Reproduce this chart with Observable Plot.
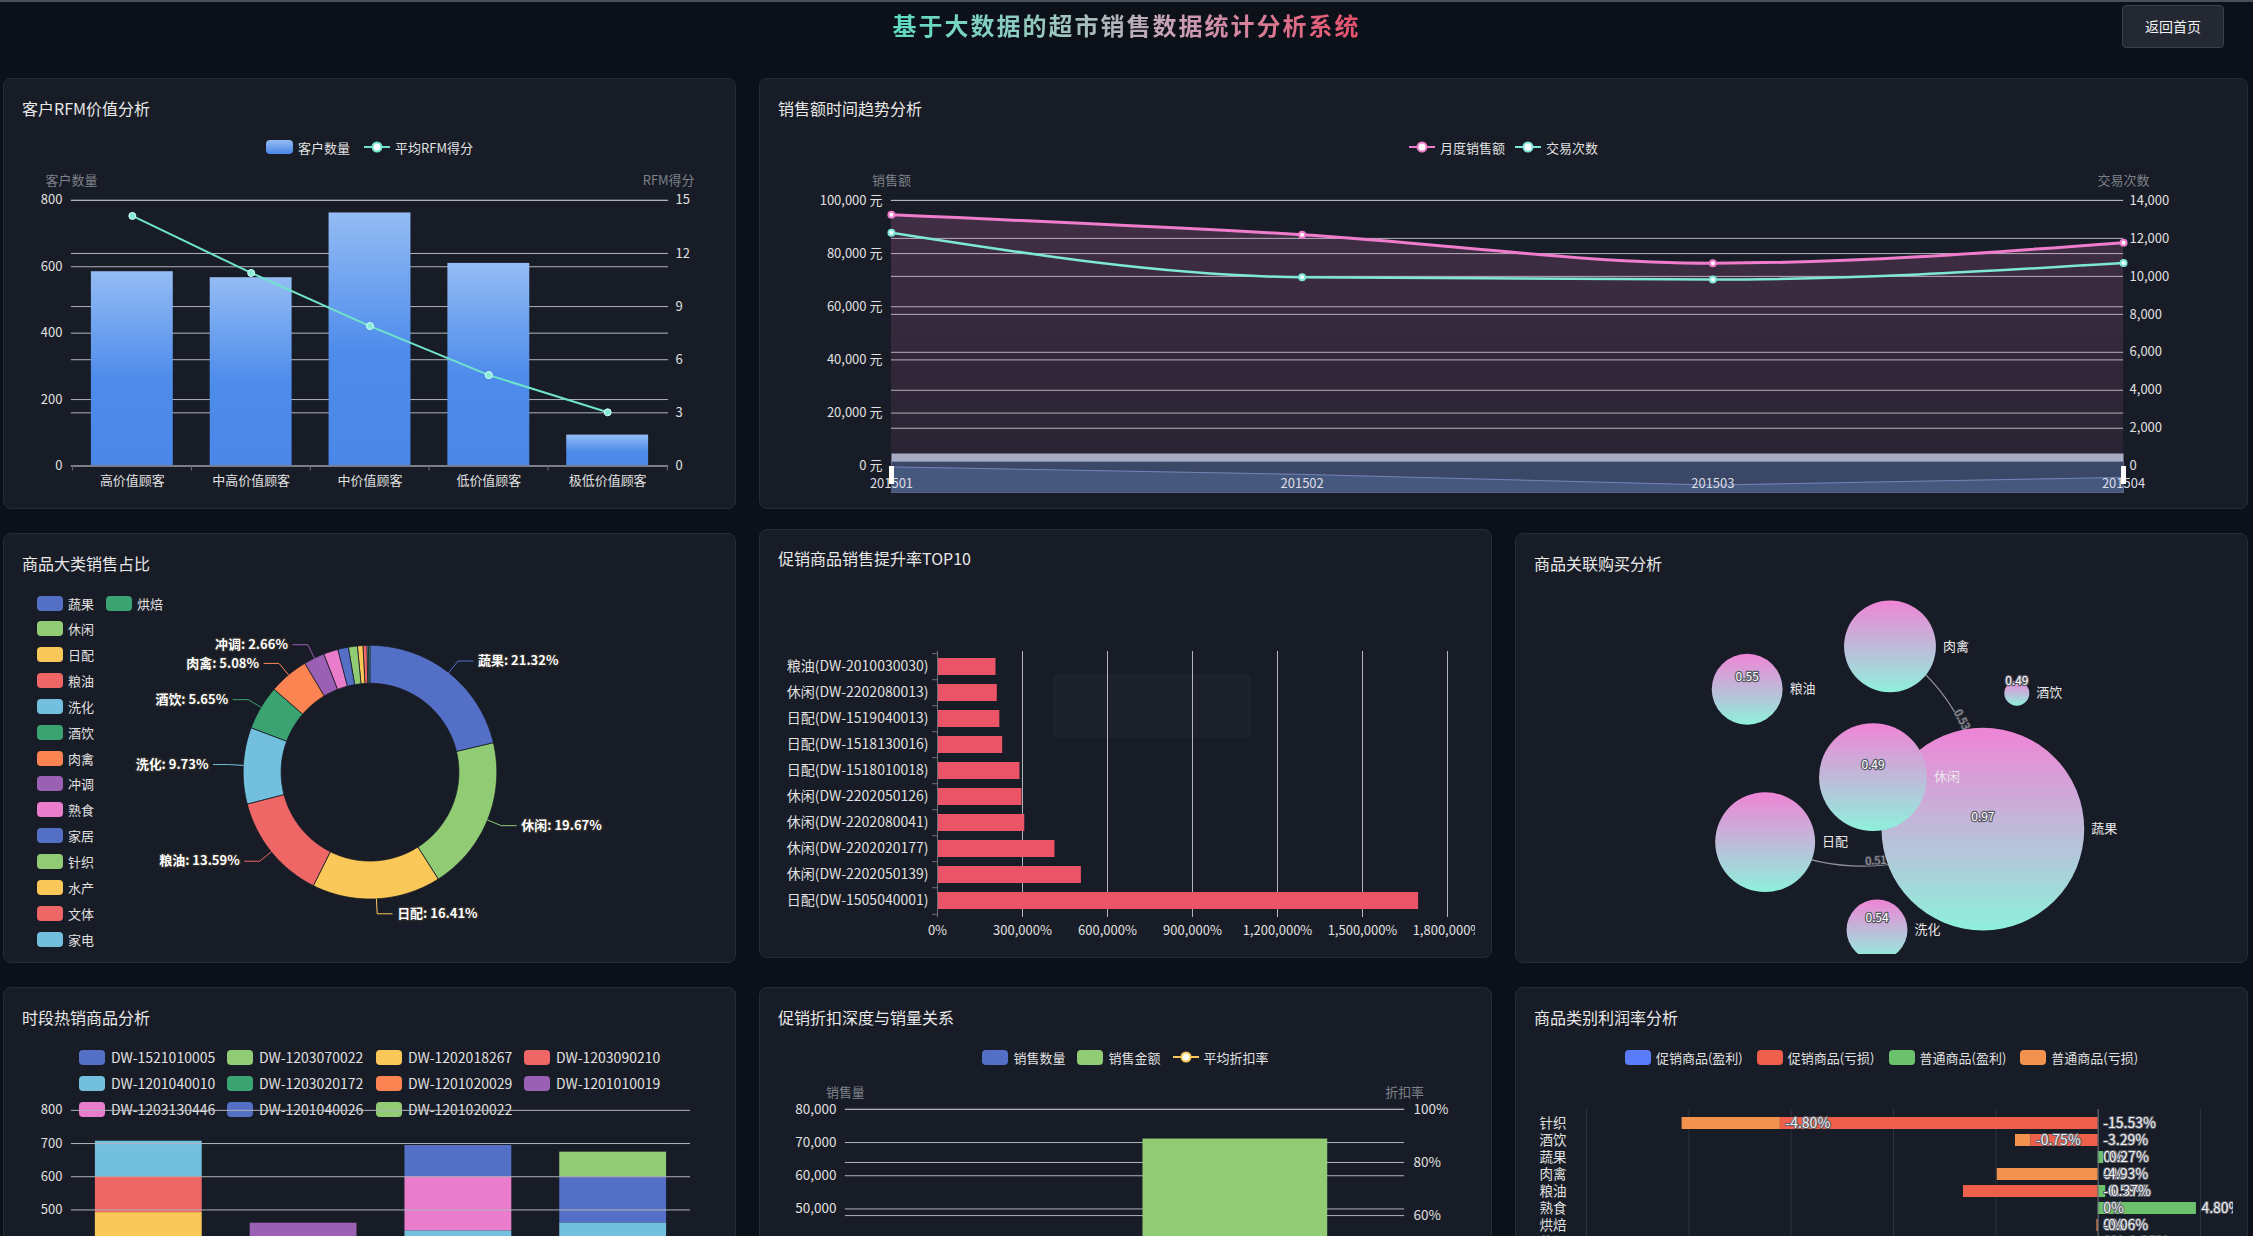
<!DOCTYPE html>
<html lang="zh-CN">
<head>
<meta charset="utf-8">
<title>基于大数据的超市销售数据统计分析系统</title>
<script src="https://cdn.jsdelivr.net/npm/d3@7"></script>
<script src="https://cdn.jsdelivr.net/npm/@observablehq/plot@0.6"></script>
<style>
html,body{margin:0;padding:0;width:2253px;height:1236px;overflow:hidden;background:#0c1019;font-family:"Noto Sans CJK SC","Noto Sans",sans-serif;color:#e6e6e6;}
#topline{position:absolute;left:0;top:0;width:2253px;height:2px;background:#4b4f57;}
#title{position:absolute;left:0;top:7px;width:2253px;text-align:center;font-size:24px;line-height:36px;letter-spacing:2px;font-weight:bold;}
#title span{background:linear-gradient(90deg,#5fdcc3 0%,#9cc6c0 35%,#c9a2b8 60%,#e8506c 100%);-webkit-background-clip:text;background-clip:text;color:transparent;}
#btn{position:absolute;left:2122px;top:5px;width:102px;height:43px;box-sizing:border-box;border:1px solid #3a404c;background:#242833;border-radius:4px;color:#f2f2f2;font-size:14px;line-height:41px;text-align:center;}
.panel{position:absolute;background:#181c26;border:1px solid #262b36;border-radius:8px;overflow:hidden;box-sizing:border-box;}
.ptitle{position:absolute;left:18px;font-size:16px;line-height:22px;color:#e8e8e8;white-space:nowrap;}
.lg{position:absolute;display:flex;align-items:center;font-size:13px;color:#e0e0e0;white-space:nowrap;}
</style>
</head>
<body>
<div id="topline"></div>
<div id="title"><span>基于大数据的超市销售数据统计分析系统</span></div>
<div id="btn">返回首页</div>
<script>
// ================= DATA =================
// 客户RFM价值分析
const rfmSegments = ["高价值顾客", "中高价值顾客", "中价值顾客", "低价值顾客", "极低价值顾客"];
const rfmCustomers = [585, 567, 762, 610, 93];
const rfmScores = [14.12, 10.9, 7.9, 5.13, 3.03];
const rfmCountTicks = [0, 200, 400, 600, 800];
const rfmScoreTicks = [0, 3, 6, 9, 12, 15];

// 销售额时间趋势分析
const months = ["201501", "201502", "201503", "201504"];
const monthlySales = [94600, 87100, 76400, 84100];
const monthlyTrans = [12300, 9950, 9830, 10700];
const salesTicks = [0, 20000, 40000, 60000, 80000, 100000];
const transTicks = [0, 2000, 4000, 6000, 8000, 10000, 12000, 14000];

// 商品大类销售占比 (%)
const categories = ["蔬果", "休闲", "日配", "粮油", "洗化", "酒饮", "肉禽", "冲调", "熟食", "家居", "针织", "水产", "文体", "家电", "烘焙"];
const categoryShare = [21.32, 19.67, 16.41, 13.59, 9.73, 5.65, 5.08, 2.66, 1.85, 1.35, 1.15, 0.70, 0.50, 0.20, 0.14];

// 促销商品销售提升率TOP10 (%)
const promoItems = ["粮油(DW-2010030030)", "休闲(DW-2202080013)", "日配(DW-1519040013)", "日配(DW-1518130016)", "日配(DW-1518010018)", "休闲(DW-2202050126)", "休闲(DW-2202080041)", "休闲(DW-2202020177)", "休闲(DW-2202050139)", "日配(DW-1505040001)"];
const promoLift = [206500, 211000, 220000, 230000, 291000, 298000, 308000, 414600, 507800, 1698000];
const promoTicks = [0, 300000, 600000, 900000, 1200000, 1500000, 1800000];

// 商品关联购买分析
const assocCategories = ["肉禽", "粮油", "酒饮", "休闲", "日配", "洗化", "蔬果"];
const assocBuyCount = [920, 710, 250, 1080, 1000, 610, 2030];
const assocScore = [null, 0.55, 0.49, 0.49, null, 0.54, 0.97];
const assocLinks = [["肉禽", "蔬果", 0.53], ["蔬果", "日配", 0.51]];
// force-layout result (graph units)
const assocLayout = [[375, 113], [232, 156], [502, 160], [358, 244], [250, 309], [362, 397], [468, 296]];

// 时段热销商品分析
const periods = ["早晨", "上午", "下午", "晚上"];
const hotSkus = ["DW-1521010005", "DW-1203070022", "DW-1202018267", "DW-1203090210", "DW-1201040010", "DW-1203020172", "DW-1201020029", "DW-1201010019", "DW-1203130446", "DW-1201040026", "DW-1201020022"];
const hotSalesBySku = [
  [180, 0, 140, 0],
  [150, 130, 0, 150],
  [162, 0, 130, 0],
  [108, 0, 0, 120],
  [107, 0, 167, 191],
  [0, 120, 0, 0],
  [0, 90, 0, 0],
  [0, 120, 0, 0],
  [0, 0, 163, 0],
  [0, 0, 94, 138],
  [0, 0, 0, 75]
];
const hotTicks = [0, 100, 200, 300, 400, 500, 600, 700, 800];

// 促销折扣深度与销量关系
const discountMeasures = ["销售数量", "销售金额"];
const discountValues = [28500, 71050];
const avgDiscountRate = [0.40];
const discountLeftTicks = [0, 10000, 20000, 30000, 40000, 50000, 60000, 70000, 80000];
const discountRateTicks = [0, 0.2, 0.4, 0.6, 0.8, 1.0];

// 商品类别利润率分析 (%)
const profitCategories = ["针织", "酒饮", "蔬果", "肉禽", "粮油", "熟食", "烘焙", "休闲", "日配", "洗化", "冲调", "家居", "水产", "文体", "家电"];
const promoMargin = [-15.53, -3.29, 0, 0, -6.58, 0, 0, 0, -1.10, 0, -2.15, 0, 0, -0.85, 0];
const normalMargin = [-4.80, -0.75, 0.27, -4.93, 0.37, 4.80, -0.06, 1.25, 0.85, -0.42, 0.60, -1.30, 2.10, 0.45, -0.20];
const profitSeries = ["促销商品(盈利)", "促销商品(亏损)", "普通商品(盈利)", "普通商品(亏损)"];
const profitTicks = [-25, -20, -15, -10, -5, 0, 5];

// ================= STYLE =================
const FONT = '"Noto Sans CJK SC","Noto Sans",sans-serif';
const GRID = "#b2b5bc";
const AXIS = "#6e7079";
const LABEL = "#e0e0e0";
const NAME = "#7d818a";
const palette = ["#5470c6", "#91cc75", "#fac858", "#ee6666", "#73c0de", "#3ba272", "#fc8452", "#9a60b4", "#ea7ccc"];
const profitColors = ["#5b7cfa", "#ee5f4c", "#6cc26c", "#f1934f"];
const baseStyle = () => ({background: "transparent", color: LABEL, fontFamily: FONT, fontSize: "13px", display: "block"});

// ================= HELPERS =================
function makePanel(x, y, w, h, title, titleTop = 18) {
  const el = document.createElement("div");
  el.className = "panel";
  Object.assign(el.style, {left: x + "px", top: y + "px", width: w + "px", height: h + "px"});
  const t = document.createElement("div");
  t.className = "ptitle";
  t.style.top = titleTop + "px";
  t.textContent = title;
  el.appendChild(t);
  document.body.appendChild(el);
  return el;
}
function mount(panel, svg, {left = 0, top = 0, w = null, h = null} = {}) {
  const wrap = document.createElement("div");
  const clip = (w || h) ? "overflow:hidden;" : "overflow:visible;";
  wrap.style.cssText = `position:absolute;left:${left - 1}px;top:${top - 1}px;` + clip + (w ? `width:${w}px;` : "") + (h ? `height:${h}px;` : "");
  wrap.appendChild(svg);
  panel.appendChild(wrap);
}
function addDefs(svg, inner) {
  const defs = document.createElementNS("http://www.w3.org/2000/svg", "defs");
  defs.innerHTML = inner;
  svg.insertBefore(defs, svg.firstChild);
}
function iconRect(bg, w = 26, h = 15) {
  return `<span style="display:inline-block;width:${w}px;height:${h}px;border-radius:4px;background:${bg}"></span>`;
}
function iconLine(color) {
  return `<svg width="26" height="14" style="display:block"><line x1="0" y1="7" x2="26" y2="7" stroke="${color}" stroke-width="2"/><circle cx="13" cy="7" r="4.5" fill="#fff" stroke="${color}" stroke-width="2"/></svg>`;
}
function legendRow(panel, items, cy, gap = 12, fontSize = 13) {
  const row = document.createElement("div");
  row.style.cssText = `position:absolute;left:0;right:0;top:${cy - 12}px;height:22px;display:flex;justify-content:center;align-items:center;gap:${gap}px;font-size:${fontSize}px;color:#e0e0e0;white-space:nowrap;`;
  row.innerHTML = items.map(it => `<span style="display:flex;align-items:center;gap:5px">${it.icon}<span>${it.label}</span></span>`).join("");
  panel.appendChild(row);
}
function legendItem(panel, left, cy, color, label, fontSize = 13, textGap = 5) {
  const d = document.createElement("div");
  d.className = "lg";
  d.style.left = (left - 1) + "px";
  d.style.top = (cy - 12) + "px";
  d.style.height = "22px";
  d.style.fontSize = fontSize + "px";
  d.style.gap = textGap + "px";
  d.innerHTML = iconRect(color) + `<span>${label}</span>`;
  panel.appendChild(d);
}

// ================= PANEL 1: 客户RFM价值分析 =================
{
  const el = makePanel(3, 78, 733, 431, "客户RFM价值分析");
  legendRow(el, [
    {icon: iconRect("linear-gradient(#94bcf4,#4a87e8)", 27, 14), label: "客户数量"},
    {icon: iconLine("#70e3cb"), label: "平均RFM得分"}
  ], 69, 14);
  const k = 800 / 15;
  const rows = rfmSegments.map((s, i) => ({segment: s, customers: rfmCustomers[i], score: rfmScores[i]}));
  const step = (733 - 68 - 67) / rfmSegments.length;
  const svg = Plot.plot({
    width: 733, height: 430, marginLeft: 68, marginRight: 67, marginTop: 122, marginBottom: 42,
    style: baseStyle(),
    x: {type: "band", domain: rfmSegments, paddingInner: 0.315, paddingOuter: 0.1575},
    y: {domain: [0, 800]},
    marks: [
      Plot.ruleY(rfmCountTicks, {stroke: GRID, strokeWidth: 1}),
      Plot.ruleY(rfmScoreTicks.map(v => v * k), {stroke: GRID, strokeWidth: 1}),
      Plot.barY(rows, {x: "segment", y: "customers", fill: "url(#rfmBarGrad)"}),
      Plot.ruleY([0], {stroke: AXIS}),
      Plot.ruleX(rfmSegments, {x: d => d, dx: -step / 2, y1: 0, y2: -15, stroke: AXIS}),
      Plot.ruleX([rfmSegments[rfmSegments.length - 1]], {x: d => d, dx: step / 2, y1: 0, y2: -15, stroke: AXIS}),
      Plot.line(rows, {x: "segment", y: d => d.score * k, stroke: "#70e3cb", strokeWidth: 2}),
      Plot.dot(rows, {x: "segment", y: d => d.score * k, r: 3.5, fill: "#86ecd6", stroke: "#d6fff6", strokeWidth: 1}),
      Plot.axisX({tickSize: 0, tickPadding: 10, label: null, fontSize: 13}),
      Plot.axisY({ticks: rfmCountTicks, tickSize: 0, tickPadding: 9, label: null, fontSize: 13}),
      Plot.axisY({anchor: "right", ticks: rfmScoreTicks.map(v => v * k), tickFormat: d => Math.round(d / k), tickSize: 0, tickPadding: 7, label: null, fontSize: 13}),
      Plot.text(["客户数量"], {frameAnchor: "top-left", textAnchor: "middle", dy: -25, fill: NAME, fontSize: 13}),
      Plot.text(["RFM得分"], {frameAnchor: "top-right", textAnchor: "middle", dy: -25, fill: NAME, fontSize: 13})
    ]
  });
  addDefs(svg, `<linearGradient id="rfmBarGrad" x1="0" y1="0" x2="0" y2="1"><stop offset="0" stop-color="#94bcf4"/><stop offset="0.55" stop-color="#4e8ceb"/><stop offset="1" stop-color="#4a87e8"/></linearGradient>`);
  mount(el, svg);
}

// ================= PANEL 2: 销售额时间趋势分析 =================
{
  const el = makePanel(759, 78, 1489, 431, "销售额时间趋势分析");
  legendRow(el, [
    {icon: iconLine("#f07ccc"), label: "月度销售额"},
    {icon: iconLine("#7ee8d8"), label: "交易次数"}
  ], 69, 10);
  const k = 100000 / 14000;
  const rows = months.map((m, i) => ({month: m, sales: monthlySales[i], trans: monthlyTrans[i]}));
  const xs = {type: "point", domain: months, padding: 0, axis: null};
  const main = Plot.plot({
    width: 1489, height: 430, marginLeft: 132, marginRight: 124, marginTop: 122, marginBottom: 42,
    style: baseStyle(),
    x: xs,
    y: {domain: [0, 100000]},
    marks: [
      Plot.ruleY(salesTicks, {stroke: GRID}),
      Plot.ruleY(transTicks.map(v => v * k), {stroke: GRID}),
      Plot.areaY(rows, {x: "month", y: "sales", curve: "monotone-x", fill: "url(#salesAreaGrad)"}),
      Plot.line(rows, {x: "month", y: d => d.trans * k, curve: "monotone-x", stroke: "#7ee8d8", strokeWidth: 2.5}),
      Plot.line(rows, {x: "month", y: "sales", curve: "monotone-x", stroke: "#f07ccc", strokeWidth: 3}),
      Plot.dot(rows, {x: "month", y: d => d.trans * k, r: 3, fill: "#fff", stroke: "#7ee8d8", strokeWidth: 2}),
      Plot.dot(rows, {x: "month", y: "sales", r: 3, fill: "#fff", stroke: "#f07ccc", strokeWidth: 2}),
      Plot.axisY({ticks: salesTicks, tickFormat: d => d3.format(",")(d) + " 元", tickSize: 0, tickPadding: 9, label: null, fontSize: 13}),
      Plot.axisY({anchor: "right", ticks: transTicks.map(v => v * k), tickFormat: d => d3.format(",")(Math.round(d / k)), tickSize: 0, tickPadding: 6, label: null, fontSize: 13}),
      Plot.text(["销售额"], {frameAnchor: "top-left", textAnchor: "middle", dy: -25, fill: NAME, fontSize: 13}),
      Plot.text(["交易次数"], {frameAnchor: "top-right", textAnchor: "middle", dy: -25, fill: NAME, fontSize: 13})
    ]
  });
  addDefs(main, `<linearGradient id="salesAreaGrad" x1="0" y1="0" x2="0" y2="1"><stop offset="0" stop-color="#f07dcd" stop-opacity="0.19"/><stop offset="1" stop-color="#f07dcd" stop-opacity="0.07"/></linearGradient>`);
  mount(el, main);
  // data-zoom slider with the sales shadow and the month labels
  const slider = Plot.plot({
    width: 1489, height: 40, marginLeft: 132, marginRight: 124, marginTop: 0, marginBottom: 1,
    style: baseStyle(),
    x: xs,
    y: {domain: [69000, 100000], range: [39, 8], axis: null},
    marks: [
      Plot.frame({fill: "#3b4767", stroke: "#5a6588", insetTop: 8}),
      Plot.areaY(rows, {x: "month", y1: 69000, y2: "sales", fill: "#47587f"}),
      Plot.line(rows, {x: "month", y: "sales", stroke: "#7284b6", strokeWidth: 1}),
      Plot.frame({fill: "#a8abc4", insetBottom: 31}),
      Plot.text(months, {x: d => d, frameAnchor: "top", dy: 25, fill: "#dcdde6", fontSize: 13}),
      Plot.ruleX([months[0], months[months.length - 1]], {x: d => d, stroke: "#ffffff", strokeWidth: 5, insetTop: 13, insetBottom: 8})
    ]
  });
  mount(el, slider, {top: 375});
}

// ================= PANEL 3: 商品大类销售占比 =================
{
  const el = makePanel(3, 533, 733, 430, "商品大类销售占比");
  categories.forEach((c, i) => {
    const col = i < 14 ? 0 : 1, row = i < 14 ? i : 0;
    legendItem(el, col ? 103 : 34, 70 + row * 25.85, palette[i % palette.length], c, 13, 5);
  });
  const cx = 367, cy = 239, R = 127, inner = 89 / 127;
  const arcs = d3.pie().sort(null).value(d => d)(categoryShare);
  const slicePts = [];
  arcs.forEach((a, i) => {
    const n = Math.max(2, Math.ceil((a.endAngle - a.startAngle) / 0.01));
    const name = categories[i], color = palette[i % palette.length];
    for (let j = 0; j <= n; j++) {
      const t = a.startAngle + (a.endAngle - a.startAngle) * j / n;
      slicePts.push({name, color, x: Math.sin(t), y: Math.cos(t)});
    }
    for (let j = n; j >= 0; j--) {
      const t = a.startAngle + (a.endAngle - a.startAngle) * j / n;
      slicePts.push({name, color, x: inner * Math.sin(t), y: inner * Math.cos(t)});
    }
  });
  const l1 = 15 / R, l2 = 15 / R;
  const total = d3.sum(categoryShare);
  const labels = [], leaderPts = [];
  arcs.forEach((a, i) => {
    const pct = categoryShare[i] / total * 100;
    if (pct < 2) return;
    const m = (a.startAngle + a.endAngle) / 2;
    const sx = Math.sin(m), sy = Math.cos(m);
    const right = sx >= 0;
    const p2 = {x: sx * (1 + l1), y: sy * (1 + l1)};
    const p3 = {x: p2.x + (right ? l2 : -l2), y: p2.y};
    const name = categories[i], color = palette[i % palette.length];
    leaderPts.push({name, color, x: sx, y: sy}, {name, color, ...p2}, {name, color, ...p3});
    labels.push({right, x: p3.x, y: p3.y, text: `${name}: ${pct.toFixed(2)}%`});
  });
  const labelStyle = {fill: "#ffffff", stroke: "#2b2b2b", strokeWidth: 3, fontWeight: "bold", fontSize: 13};
  const svg = Plot.plot({
    width: 733, height: 430,
    style: baseStyle(),
    x: {domain: [-1, 1], range: [cx - R, cx + R], axis: null},
    y: {domain: [-1, 1], range: [cy + R, cy - R], axis: null},
    marks: [
      Plot.line(slicePts, {x: "x", y: "y", z: "name", fill: "color", stroke: "#181c26", strokeWidth: 0.8, curve: "linear-closed"}),
      Plot.line(leaderPts, {x: "x", y: "y", z: "name", stroke: "color", strokeWidth: 1}),
      Plot.text(labels.filter(d => d.right), {x: "x", y: "y", text: "text", textAnchor: "start", dx: 5, ...labelStyle}),
      Plot.text(labels.filter(d => !d.right), {x: "x", y: "y", text: "text", textAnchor: "end", dx: -5, ...labelStyle})
    ]
  });
  mount(el, svg);
}

// ================= PANEL 4: 促销商品销售提升率TOP10 =================
{
  const el = makePanel(759, 529, 733, 429, "促销商品销售提升率TOP10", 17);
  const tip = document.createElement("div");
  tip.style.cssText = "position:absolute;left:293px;top:144px;width:198px;height:64px;border-radius:4px;background:rgba(255,255,255,0.025);";
  el.appendChild(tip);
  const rows = promoItems.map((p, i) => ({item: p, lift: promoLift[i]}));
  const frameW = 716 - 178 - 28;
  const step = (429 - 122 - 41) / promoItems.length;
  const svg = Plot.plot({
    width: 716, height: 429, marginLeft: 178, marginRight: 28, marginTop: 122, marginBottom: 41,
    style: baseStyle(),
    x: {domain: [0, 1800000]},
    y: {type: "band", domain: promoItems, paddingInner: 0.335, paddingOuter: 0.1675},
    marks: [
      Plot.ruleX(promoTicks.filter(v => v > 0), {stroke: GRID}),
      Plot.barX(rows, {y: "item", x: "lift", fill: "#eb5466"}),
      Plot.ruleX([0], {stroke: AXIS}),
      Plot.ruleY(promoItems, {y: d => d, dy: -step / 2, insetLeft: -5, insetRight: frameW, stroke: AXIS}),
      Plot.ruleY([promoItems[promoItems.length - 1]], {y: d => d, dy: step / 2, insetLeft: -5, insetRight: frameW, stroke: AXIS}),
      Plot.axisY({tickSize: 0, tickPadding: 9, label: null, fontSize: 14}),
      Plot.axisX({ticks: promoTicks, tickFormat: d => d3.format(",")(d) + "%", tickSize: 0, tickPadding: 8, label: null, fontSize: 13})
    ]
  });
  mount(el, svg, {w: 716});
}

// ================= PANEL 5: 商品关联购买分析 =================
{
  const el = makePanel(1515, 533, 733, 430, "商品关联购买分析");
  const rMax = 101.5, cMax = d3.max(assocBuyCount);
  const rOf = d3.scaleLinear().domain([0, cMax]).range([0, rMax]);
  const nodes = assocCategories.map((c, i) => ({name: c, count: assocBuyCount[i], score: assocScore[i], x: assocLayout[i][0], y: assocLayout[i][1]}));
  const byName = Object.fromEntries(nodes.map(n => [n.name, n]));
  const links = assocLinks.map(([s, t, v]) => ({s: byName[s], t: byName[t], v}));
  const bend = 31;
  const linkLabels = links.map(l => {
    const dx = l.t.x - l.s.x, dy = l.t.y - l.s.y, d = Math.hypot(dx, dy);
    const sag = d / 2 * Math.tan(bend / 2 * Math.PI / 180);
    let angle = Math.atan2(dy, dx) * 180 / Math.PI;
    if (angle > 90) angle -= 180;
    if (angle < -90) angle += 180;
    return {x: (l.s.x + l.t.x) / 2 + dy / d * sag, y: (l.s.y + l.t.y) / 2 - dx / d * sag, text: l.v.toFixed(2), angle};
  });
  const svg = Plot.plot({
    width: 733, height: 422, margin: 0,
    style: baseStyle(),
    x: {domain: [0, 733], range: [0, 733], axis: null},
    y: {domain: [0, 422], range: [0, 422], axis: null},
    r: {type: "linear", domain: [0, cMax], range: [0, rMax]},
    marks: [
      Plot.arrow(links, {x1: d => d.s.x, y1: d => d.s.y, x2: d => d.t.x, y2: d => d.t.y, bend, headLength: 0, stroke: "#8f929b", strokeWidth: 1.2}),
      Plot.text(linkLabels, {x: "x", y: "y", text: "text", rotate: "angle", dy: -5, fill: "#9a9ca4", stroke: "#3c3f47", strokeWidth: 2, fontSize: 11}),
      Plot.dot(nodes, {x: "x", y: "y", r: "count", fill: "url(#bubbleGrad)"}),
      Plot.text(nodes.filter(d => d.score != null), {x: "x", y: "y", text: d => d.score.toFixed(2), dy: -12, fill: "#ffffff", stroke: "#595a66", strokeWidth: 2.5, fontSize: 12}),
      Plot.text(nodes, {x: d => d.x + rOf(d.count) + 7, y: "y", text: "name", textAnchor: "start", fill: "#e8e8e8", fontSize: 13})
    ]
  });
  addDefs(svg, `<linearGradient id="bubbleGrad" x1="0" y1="0" x2="0" y2="1"><stop offset="0" stop-color="#ef84d6"/><stop offset="1" stop-color="#8ef0dc"/></linearGradient>`);
  mount(el, svg, {h: 422});
}

// ================= PANEL 6: 时段热销商品分析 =================
{
  const el = makePanel(3, 987, 733, 431, "时段热销商品分析");
  const cols = [76, 224, 373, 521], rowsY = [70, 96, 122];
  hotSkus.forEach((s, i) => legendItem(el, cols[i % 4], rowsY[Math.floor(i / 4)], palette[i % palette.length], s, 14, 6));
  const rows = [];
  periods.forEach((p, j) => hotSkus.forEach((s, i) => {
    const v = hotSalesBySku[i][j];
    if (v > 0) rows.push({period: p, sku: s, v});
  }));
  const svg = Plot.plot({
    width: 733, height: 430, marginLeft: 68, marginRight: 45, marginTop: 123, marginBottom: 41,
    style: baseStyle(),
    x: {type: "band", domain: periods, paddingInner: 0.31, paddingOuter: 0.155},
    y: {domain: [0, 800]},
    color: {domain: hotSkus, range: hotSkus.map((s, i) => palette[i % palette.length])},
    marks: [
      Plot.barY(rows, {x: "period", y: "v", fill: "sku"}),
      Plot.ruleY(hotTicks, {stroke: GRID}),
      Plot.axisY({ticks: hotTicks, tickSize: 0, tickPadding: 9, label: null, fontSize: 13}),
      Plot.axisX({tickSize: 0, tickPadding: 10, label: null, fontSize: 13})
    ]
  });
  mount(el, svg);
}

// ================= PANEL 7: 促销折扣深度与销量关系 =================
{
  const el = makePanel(759, 987, 733, 431, "促销折扣深度与销量关系");
  legendRow(el, [
    {icon: iconRect("#5470c6"), label: "销售数量"},
    {icon: iconRect("#91cc75"), label: "销售金额"},
    {icon: iconLine("#fac858"), label: "平均折扣率"}
  ], 70, 12);
  const k = 80000;
  const rows = discountMeasures.map((m, i) => ({measure: m, value: discountValues[i]}));
  const svg = Plot.plot({
    width: 733, height: 430, marginLeft: 86, marginRight: 87, marginTop: 122, marginBottom: 42,
    style: baseStyle(),
    x: {type: "band", domain: discountMeasures, paddingInner: 0.163, paddingOuter: 0.348, axis: null},
    y: {domain: [0, 80000]},
    color: {domain: discountMeasures, range: ["#5470c6", "#91cc75"]},
    marks: [
      Plot.ruleY(discountLeftTicks, {stroke: GRID}),
      Plot.ruleY(discountRateTicks.map(v => v * k), {stroke: GRID}),
      Plot.barY(rows, {x: "measure", y: "value", fill: "measure"}),
      Plot.dot(avgDiscountRate, {y: d => d * k, r: 4, fill: "#ffffff", stroke: "#fac858", strokeWidth: 2}),
      Plot.axisY({ticks: discountLeftTicks, tickFormat: d3.format(","), tickSize: 0, tickPadding: 9, label: null, fontSize: 13.5}),
      Plot.axisY({anchor: "right", ticks: discountRateTicks.map(v => v * k), tickFormat: d => Math.round(d / k * 100) + "%", tickSize: 0, tickPadding: 9, label: null, fontSize: 13.5}),
      Plot.text(["销售量"], {frameAnchor: "top-left", textAnchor: "middle", dy: -22, fill: NAME, fontSize: 13}),
      Plot.text(["折扣率"], {frameAnchor: "top-right", textAnchor: "middle", dy: -22, fill: NAME, fontSize: 13})
    ]
  });
  mount(el, svg);
}

// ================= PANEL 8: 商品类别利润率分析 =================
{
  const el = makePanel(1515, 987, 733, 431, "商品类别利润率分析");
  legendRow(el, profitSeries.map((s, i) => ({icon: iconRect(profitColors[i]), label: s})), 70, 14);
  const rows = [], promoLabels = [], normalLabels = [];
  const fmt = v => v === 0 ? "0%" : v.toFixed(2) + "%";
  profitCategories.forEach((c, i) => {
    const p = promoMargin[i], n = normalMargin[i];
    rows.push({cat: c, series: p >= 0 ? profitSeries[0] : profitSeries[1], v: p});
    rows.push({cat: c, series: n >= 0 ? profitSeries[2] : profitSeries[3], v: n});
    promoLabels.push({cat: c, xe: Math.max(0, p), text: fmt(p)});
    let xe;
    if (n >= 0) xe = (p > 0 ? p : 0) + n;
    else xe = p < 0 ? p : 0;
    normalLabels.push({cat: c, xe, text: fmt(n)});
  });
  const svg = Plot.plot({
    width: 718, height: 430, marginLeft: 71, marginRight: 33, marginTop: 122, marginBottom: 42,
    style: baseStyle(),
    x: {domain: [-25, 5]},
    y: {type: "band", domain: profitCategories, paddingInner: 0.28, paddingOuter: 0.14},
    color: {domain: profitSeries, range: profitColors},
    marks: [
      Plot.ruleX(profitTicks, {stroke: "#2d323c"}),
      Plot.barX(rows, {y: "cat", x: "v", fill: "series"}),
      Plot.ruleX([0], {stroke: AXIS}),
      Plot.text(promoLabels.concat(normalLabels), {y: "cat", x: "xe", text: "text", dx: 5, textAnchor: "start", fill: "#f0f0f0", stroke: "#5a5e68", strokeWidth: 2, fontSize: 14}),
      Plot.axisY({tickSize: 0, tickPadding: 20, label: null, fontSize: 13.5}),
      Plot.axisX({ticks: profitTicks, tickFormat: d => d + "%", tickSize: 0, tickPadding: 8, label: null, fontSize: 13})
    ]
  });
  mount(el, svg, {w: 718});
}
</script>
</body>
</html>
